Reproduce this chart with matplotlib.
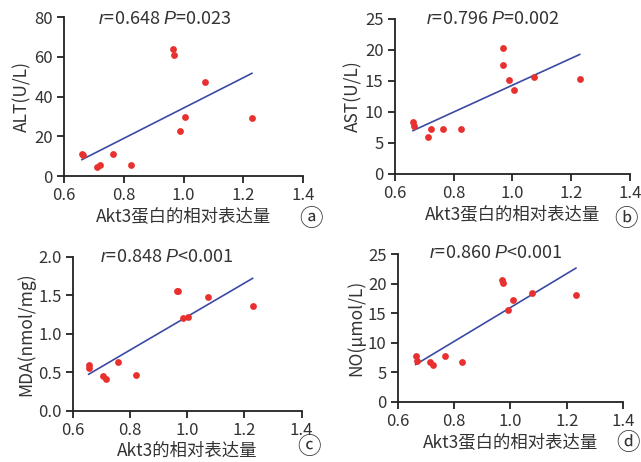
import numpy as np
import matplotlib
matplotlib.use("Agg")
import matplotlib.pyplot as plt

plt.rcParams['font.family'] = ['Noto Sans CJK SC', 'DejaVu Sans']
plt.rcParams['font.size'] = 12
plt.rcParams['mathtext.fontset'] = 'custom'
plt.rcParams['mathtext.it'] = 'Liberation Sans:italic'
plt.rcParams['mathtext.rm'] = 'Noto Sans CJK SC'

# data
akt3_a = [0.660, 0.665, 0.712, 0.721, 0.763, 0.825, 0.965, 0.968, 0.989, 1.004, 1.073, 1.229]
alt = [10.9, 10.4, 4.7, 5.4, 11.2, 5.5, 63.9, 60.9, 22.8, 29.7, 47.3, 29.0]

akt3_b = [0.662, 0.667, 0.713, 0.722, 0.765, 0.827, 0.967, 0.969, 0.990, 1.006, 1.075, 1.229]
ast = [8.4, 7.7, 6.0, 7.3, 7.2, 7.2, 20.3, 17.5, 15.1, 13.5, 15.7, 15.4]

akt3_c = [0.658, 0.656, 0.707, 0.716, 0.760, 0.821, 0.964, 0.967, 0.987, 1.004, 1.073, 1.229]
mda = [0.60, 0.56, 0.46, 0.42, 0.63, 0.47, 1.56, 1.55, 1.20, 1.22, 1.48, 1.36]

akt3_d = [0.664, 0.667, 0.715, 0.724, 0.767, 0.828, 0.969, 0.972, 0.991, 1.008, 1.076, 1.232]
no = [7.7, 6.9, 6.7, 6.2, 7.7, 6.7, 20.7, 20.1, 15.6, 17.3, 18.4, 18.1]

stats = ['$r$=0.648 $P$=0.023', '$r$=0.796 $P$=0.002',
         '$r$=0.848 $P$<0.001', '$r$=0.860 $P$<0.001']
ylabels = ['ALT(U/L)', 'AST(U/L)', 'MDA(nmol/mg)', 'NO(μmol/L)']
xlabels = ['Akt3蛋白的相对表达量', 'Akt3蛋白的相对表达量', 'Akt3的相对表达量', 'Akt3蛋白的相对表达量']
tags = ['ⓐ', 'ⓑ', 'ⓒ', 'ⓓ']

text_c = '#333333'
fig = plt.figure(figsize=(6.41, 4.62), dpi=100)

boxes = [[0.0998, 0.619, 0.373, 0.344],
         [0.6158, 0.6234, 0.367, 0.3355],
         [0.1134, 0.1104, 0.357, 0.334],
         [0.6204, 0.1299, 0.352, 0.3197]]
xs = [akt3_a, akt3_b, akt3_c, akt3_d]
ys = [alt, ast, mda, no]
ylims = [(0, 80), (0, 25), (0, 2.0), (0, 25)]
ysteps = [20, 5, 0.5, 5]
stat_pos = [(0.42, 0.99), (0.416, 1.0), (0.41, 1.0), (0.435, 1.007)]
tag_pos = [(311, 219), (626, 220), (309, 448), (628, 444)]

for i in range(4):
    ax = fig.add_axes(boxes[i])
    x = np.array(xs[i])
    y = np.array(ys[i])
    ax.scatter(x, y, s=24, color='#e8302e', zorder=3, linewidths=0)
    k, b = np.polyfit(x, y, 1)
    xx = np.array([x.min(), x.max()])
    ax.plot(xx, k * xx + b, color='#3b4aa3', lw=1.2, zorder=2)
    ax.set_xlim(0.6, 1.4)
    ax.set_ylim(*ylims[i])
    ax.set_xticks(np.arange(0.6, 1.41, 0.2))
    ax.set_yticks(np.arange(ylims[i][0], ylims[i][1] + 1e-9, ysteps[i]))
    ax.xaxis.set_major_formatter(matplotlib.ticker.FormatStrFormatter('%.1f'))
    if i == 2:
        ax.yaxis.set_major_formatter(matplotlib.ticker.FormatStrFormatter('%.1f'))
    else:
        ax.yaxis.set_major_formatter(matplotlib.ticker.FormatStrFormatter('%d'))
    for s in ['top', 'right']:
        ax.spines[s].set_visible(False)
    for s in ['left', 'bottom']:
        ax.spines[s].set_linewidth(1.3)
        ax.spines[s].set_color('#222222')
    ax.tick_params(direction='out', length=5, width=1.3, colors='#222222',
                   labelcolor=text_c, labelsize=12, pad=3)
    ax.set_xlabel(xlabels[i], color=text_c, fontsize=12.5, labelpad=2)
    ax.set_ylabel(ylabels[i], color=text_c, fontsize=12.5, labelpad=2)
    ax.text(stat_pos[i][0], stat_pos[i][1], stats[i], transform=ax.transAxes,
            ha='center', va='center', fontsize=13, color=text_c)
    fig.text(tag_pos[i][0] / 641, 1 - tag_pos[i][1] / 462, tags[i],
             ha='center', va='center', fontsize=17, color=text_c)

fig.savefig('out.png', dpi=100)
